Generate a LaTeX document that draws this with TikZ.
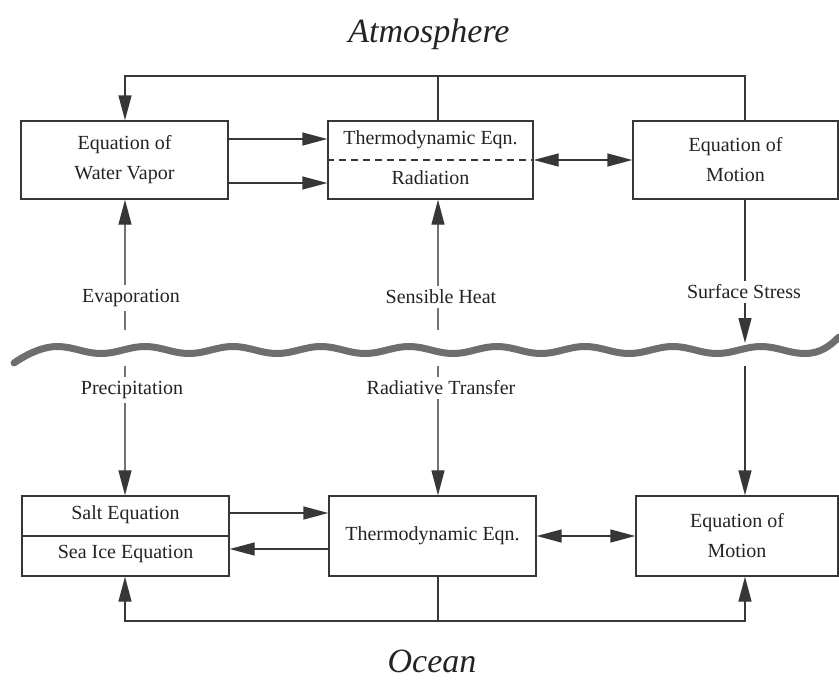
\documentclass[tikz,border=0pt]{standalone}
\usepackage{fontspec}
\setmainfont{Liberation Serif}
\usetikzlibrary{arrows.meta}
\definecolor{linec}{RGB}{55,55,55}
\definecolor{wavec}{RGB}{110,110,110}
\definecolor{textc}{RGB}{35,35,35}
\tikzset{
  box/.style={draw=linec, line width=1.4pt, rectangle, inner sep=0pt, align=center,
    text=textc, font=\fontsize{20}{30}\selectfont},
  txt/.style={inner sep=0pt, text=textc, font=\fontsize{20}{30}\selectfont},
  lbl/.style={fill=white, inner xsep=3pt, inner ysep=4pt, text=textc, font=\fontsize{20}{24}\selectfont},
  title/.style={inner sep=0pt, anchor=base, text=textc, font=\fontsize{34}{40}\selectfont\itshape},
  conn/.style={draw=linec, line width=1.4pt},
  arr/.style={conn, -{Triangle[length=25pt,width=13pt]}},
  darr/.style={conn, {Triangle[length=25pt,width=13pt]}-{Triangle[length=25pt,width=13pt]}},
  vconn/.style={draw=black!55, line width=1.3pt},
  varr/.style={vconn, -{Triangle[length=25pt,width=13pt,color=linec]}},
  wave/.style={draw=wavec, line width=7pt, line cap=round}
}
\begin{document}
\begin{tikzpicture}[x=1pt,y=-1pt]
\useasboundingbox (0,0) rectangle (839,681);

% titles
\node[title] (atm) at (429,42) {Atmosphere};
\node[title] (oce) at (432,672) {Ocean};

% helper coordinates
\coordinate (xl) at (125,0);
\coordinate (xm) at (438,0);
\coordinate (xr) at (745,0);
\coordinate (yt) at (0,76);
\coordinate (yb) at (0,621);
\coordinate (ya) at (0,139);
\coordinate (yc) at (0,183);
\coordinate (yd) at (0,160);
\coordinate (ye) at (0,513);
\coordinate (yf) at (0,549);
\coordinate (yg) at (0,536);

% atmosphere boxes
\node[box, minimum width=207pt, minimum height=78pt] (wv) at (124.5,160) {Equation of\\Water Vapor};
\node[box, minimum width=205pt, minimum height=78pt] (ta) at (430.5,160) {};
\node[txt] (tat) at (430.5,140) {Thermodynamic Eqn.};
\node[txt] (tar) at (430.5,178) {Radiation};
\draw[linec, line width=1.2pt, dash pattern=on 7pt off 5pt] (ta.west) -- (ta.east);
\node[box, minimum width=205pt, minimum height=78pt] (ma) at (735.5,160) {Equation of\\Motion};

% ocean boxes
\node[box, minimum width=207pt, minimum height=80pt] (sa) at (125.5,536) {};
\node[txt] (sat) at (125.5,515) {Salt Equation};
\node[txt] (sai) at (125.5,554) {Sea Ice Equation};
\draw[linec, line width=1.4pt] (sa.west) -- (sa.east);
\node[box, minimum width=207pt, minimum height=80pt] (to) at (432.5,536) {Thermodynamic Eqn.};
\node[box, minimum width=202pt, minimum height=80pt] (mo) at (737,536) {Equation of\\Motion};

% wave (sea surface)
\draw[wave] (14,363) .. controls (30,352) and (45,346.5) .. (57,346.5)
  -- plot[domain=57:805, samples=220] (\x,{350-3.5*cos(4.0909*(\x-57))})
  .. controls (820,353.5) and (830,346) .. (839,337);

% coordinates near the surface
\coordinate (eu) at (125,330);
\coordinate (el) at (125,366);
\coordinate (mu) at (438,330);
\coordinate (ml) at (438,366);
\coordinate (rs) at (745,343);
\coordinate (rl) at (745,366);

% atmosphere horizontal connectors
\draw[arr] (wv.east |- ya) -- (ta.west |- ya);
\draw[arr] (wv.east |- yc) -- (ta.west |- yc);
\draw[darr] (ta.east |- yd) -- (ma.west |- yd);

% top feedback
\draw[conn] (ma.north -| xr) -- (xr |- yt) -- (xm |- yt);
\draw[arr] (ta.north -| xm) -- (xm |- yt) -| (wv.north -| xl);

% ocean horizontal connectors
\draw[arr] (sa.east |- ye) -- (to.west |- ye);
\draw[arr] (to.west |- yf) -- (sa.east |- yf);
\draw[darr] (to.east |- yg) -- (mo.west |- yg);

% bottom feedback
\draw[arr] (to.south -| xm) -- (xm |- yb) -| (sa.south -| xl);
\draw[arr] (xm |- yb) -| (mo.south -| xr);

% vertical exchanges
\draw[varr] (eu) -- (wv.south -| xl);
\draw[varr] (el) -- (sa.north -| xl);
\draw[varr] (mu) -- (ta.south -| xm);
\draw[varr] (ml) -- (to.north -| xm);
\draw[arr] (ma.south -| xr) -- (rs);
\draw[arr] (rl) -- (mo.north -| xr);

% labels
\node[lbl] (lev) at (131,298) {Evaporation};
\node[lbl] (lpr) at (132,390) {Precipitation};
\node[lbl] (lsh) at (441,297) {Sensible Heat};
\node[lbl] (lrt) at (441,388) {Radiative Transfer};
\node[lbl] (lss) at (744,292) {Surface Stress};
\end{tikzpicture}
\end{document}
